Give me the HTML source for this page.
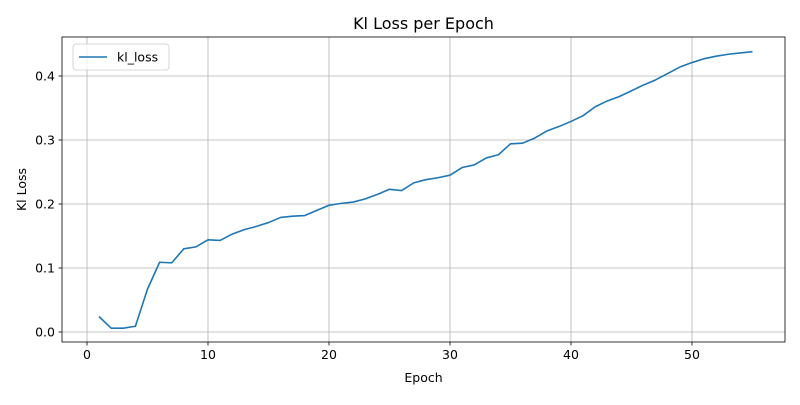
<!DOCTYPE html>
<html><head><meta charset="utf-8"><style>
body{margin:0;background:#fff;font-family:"Liberation Sans","DejaVu Sans",sans-serif;}
svg text{font-family:"DejaVu Sans","Liberation Sans",sans-serif;}
</style></head><body>
<svg id="chart" width="800" height="400" xmlns="http://www.w3.org/2000/svg"></svg>
<script>
const epochs = [];
for (let i = 1; i <= 55; i++) epochs.push(i);
const klLoss = [0.024,0.006,0.006,0.009,0.067,0.109,0.108,0.130,0.133,0.144,0.143,0.153,0.160,0.165,0.171,0.179,0.181,0.182,0.190,0.198,0.201,0.203,0.208,0.215,0.223,0.221,0.233,0.238,0.241,0.245,0.257,0.261,0.272,0.277,0.294,0.295,0.303,0.314,0.321,0.329,0.338,0.352,0.361,0.368,0.377,0.386,0.394,0.404,0.414,0.421,0.427,0.431,0.434,0.436,0.438];
const xTicks = [0,10,20,30,40,50];
const yTicks = [0.0,0.1,0.2,0.3,0.4];
const yTickLabels = ["0.0","0.1","0.2","0.3","0.4"];

const L=62,R=785,T=37,B=342;
const xs = v => 87 + v*12.1;
const ys = v => 332 - v*640;
const svg = document.getElementById('chart');
const NS='http://www.w3.org/2000/svg';
function mk(tag, attrs, parent){const e=document.createElementNS(NS,tag);for(const k in attrs)e.setAttribute(k,attrs[k]);(parent||svg).appendChild(e);return e;}

const grid = mk('g',{});


xTicks.forEach(t=>{
  mk('line',{x1:xs(t),x2:xs(t),y1:T,y2:B,stroke:'#b0b0b0','stroke-width':0.8},grid);
  mk('line',{x1:xs(t),x2:xs(t),y1:B,y2:B+3.5,stroke:'#000','stroke-width':0.8});
  const tx=mk('text',{x:xs(t),y:B+17,'text-anchor':'middle','font-size':12.5,fill:'#000'});
  tx.textContent=t;
  
  
});
yTicks.forEach((t,i)=>{
  mk('line',{x1:L,x2:R,y1:ys(t),y2:ys(t),stroke:'#b0b0b0','stroke-width':0.8},grid);
  mk('line',{x1:L-3.5,x2:L,y1:ys(t),y2:ys(t),stroke:'#000','stroke-width':0.8});
  const tx=mk('text',{x:L-7,y:ys(t)+4.5,'text-anchor':'end','font-size':12.5,fill:'#000'});
  tx.textContent=yTickLabels[i];
  
  
});

const line = mk('polyline',{points:epochs.map((e,i)=>xs(e)+','+ys(klLoss[i])).join(' '),fill:'none',stroke:'#1f77b4','stroke-width':1.6,'stroke-linejoin':'round'});



const frame = mk('rect',{x:L,y:T,width:R-L,height:B-T,fill:'none',stroke:'#000','stroke-width':0.8});



const title=mk('text',{x:(L+R)/2,y:29,'text-anchor':'middle','font-size':16,fill:'#000'});
title.textContent='Kl Loss per Epoch';


const xl=mk('text',{x:(L+R)/2,y:382,'text-anchor':'middle','font-size':12.5,fill:'#000'});
xl.textContent='Epoch';


const yl=mk('text',{x:26,y:(T+B)/2,'text-anchor':'middle','font-size':12.5,fill:'#000',transform:'rotate(-90 26 '+((T+B)/2)+')'});
yl.textContent='Kl Loss';



const leg=mk('g',{});


mk('rect',{x:73,y:44,width:96,height:26,rx:3,fill:'#fff','fill-opacity':0.8,stroke:'#ccc','stroke-width':0.8},leg);
mk('line',{x1:79,x2:107,y1:57,y2:57,stroke:'#1f77b4','stroke-width':1.6},leg);
const lt=mk('text',{x:117,y:61.5,'font-size':12.5,fill:'#000'},leg);
lt.textContent='kl_loss';


</script>
</body></html>
